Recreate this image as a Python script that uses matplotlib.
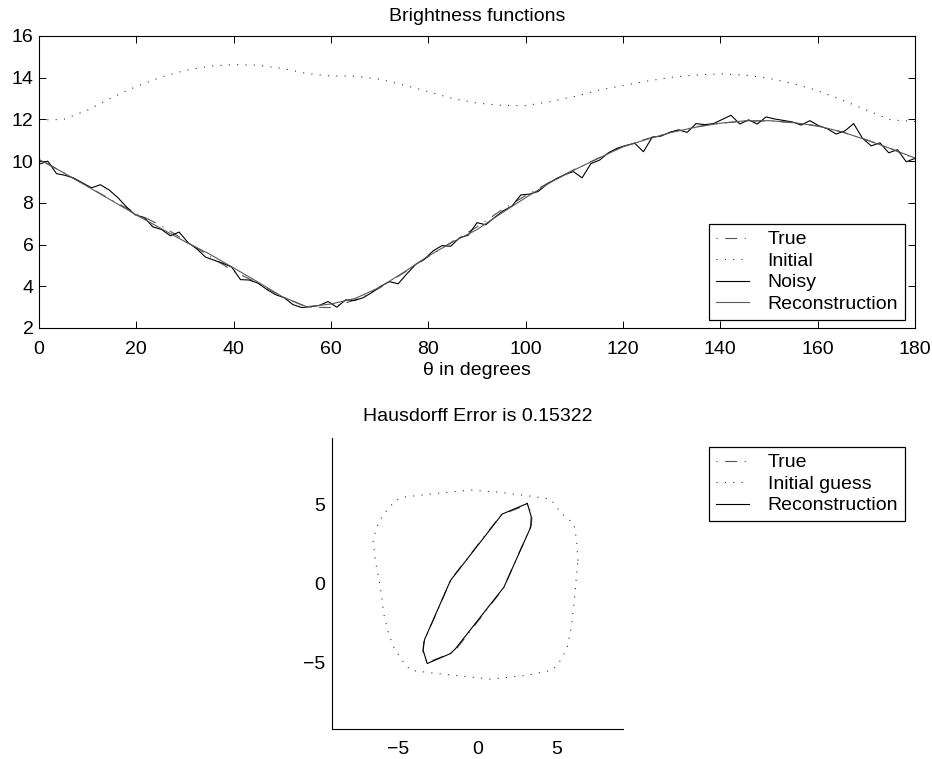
import numpy as np
import matplotlib
matplotlib.use("Agg")
import matplotlib.pyplot as plt

plt.rcParams['font.family'] = ['Liberation Sans', 'DejaVu Sans']
plt.rcParams['lines.scale_dashes'] = False

# ---------------- data: brightness functions ----------------
theta5 = list(range(0, 181, 5))
true_b = [10.12, 9.45, 8.80, 8.12, 7.50, 6.92, 6.20, 5.45, 4.72, 4.15,
          3.50, 3.00, 2.98, 3.35, 3.92, 4.65, 5.42, 6.15, 6.85, 7.65,
          8.35, 9.00, 9.60, 10.15, 10.70, 11.08, 11.40, 11.65, 11.82, 11.92,
          11.93, 11.84, 11.68, 11.40, 11.03, 10.60, 10.12]
initial_b = [11.97, 12.00, 12.45, 13.05, 13.58, 14.02, 14.35, 14.55, 14.63, 14.60,
             14.45, 14.20, 14.08, 14.07, 13.93, 13.65, 13.33, 13.00, 12.78, 12.68,
             12.66, 12.85, 13.10, 13.40, 13.62, 13.84, 14.02, 14.13, 14.18, 14.13,
             13.97, 13.72, 13.38, 12.93, 12.45, 11.98, 11.90]
recon_b = [10.08, 9.45, 8.78, 8.10, 7.42, 6.78, 6.14, 5.55, 4.88, 4.20,
           3.50, 3.02, 3.15, 3.42, 3.95, 4.68, 5.45, 6.12, 6.72, 7.50,
           8.25, 8.97, 9.58, 10.14, 10.69, 11.05, 11.38, 11.63, 11.82, 11.93,
           11.94, 11.85, 11.69, 11.40, 11.02, 10.60, 10.15]

theta_noisy = [round(1.8 * k, 1) for k in range(101)]
noisy_b = [9.85, 10.00, 9.40, 9.32, 9.18, 8.95, 8.72, 8.87, 8.62, 8.25,
           7.80, 7.42, 7.30, 6.85, 6.72, 6.42, 6.60, 6.10, 5.80, 5.40,
           5.25, 5.10, 4.92, 4.32, 4.30, 4.15, 3.85, 3.60, 3.45, 3.12,
           2.98, 3.02, 3.08, 3.27, 3.00, 3.35, 3.32, 3.45, 3.70, 4.00,
           4.22, 4.12, 4.60, 5.05, 5.30, 5.70, 5.95, 5.92, 6.32, 6.45,
           7.05, 6.95, 7.30, 7.62, 7.85, 8.38, 8.42, 8.55, 8.90, 9.15,
           9.35, 9.50, 9.20, 9.88, 10.05, 10.40, 10.62, 10.75, 10.86, 10.45,
           11.15, 11.20, 11.38, 11.50, 11.38, 11.80, 11.75, 11.80, 12.00, 12.20,
           11.78, 11.98, 11.78, 12.12, 12.02, 11.95, 11.88, 11.73, 11.94, 11.70,
           11.55, 11.30, 11.45, 11.80, 11.10, 10.73, 10.88, 10.40, 10.55, 9.97,
           10.13]

# ---------------- data: shapes ----------------
true_x = [3.20, 1.50, -1.65, -3.40, -3.45, -3.20, -1.50, 1.65, 3.40, 3.45, 3.20]
true_y = [5.00, 4.35, 0.30, -3.70, -4.30, -5.00, -4.35, -0.30, 3.70, 4.30, 5.00]

init_x = [6.35, 6.27, 6.10, 5.25, 4.94, 4.62, 3.14, 1.45, -0.44, -2.55, -4.87,
          -5.30, -5.93, -6.25, -6.46, -6.60, -6.46, -6.14, -5.93, -5.62, -5.30,
          -4.77, -4.24, -2.55, 0.82, 3.14, 4.73, 5.25, 5.68, 5.93, 6.10, 6.35]
init_y = [1.45, 2.71, 3.76, 4.50, 4.92, 5.34, 5.55, 5.76, 5.91, 5.70, 5.44,
          5.13, 4.39, 3.87, 3.24, 2.71, 1.45, -0.23, -1.91, -3.17, -4.02,
          -4.86, -5.49, -5.69, -6.05, -5.80, -5.49, -4.86, -4.02, -2.76, -1.28, 1.45]

rec_x = [3.15, 1.56, -1.71, -3.35, -3.44, -3.18, -1.71, -1.39, 1.67, 3.36, 3.40, 3.15]
rec_y = [5.06, 4.39, 0.19, -3.55, -4.22, -5.06, -4.43, -4.12, -0.23, 3.55, 4.22, 5.06]

hausdorff = 0.15322

# ---------------- styles ----------------
DASHDOT = (14.0, (8.5, 5.5, 0.8, 5.5))
DOTTED = (0, (0.8, 5.2))
C_TRUE = '#555555'
C_INIT = '#333333'
C_REC = '#5a5a5a'
LW = 0.8
FS = 14
LEG_KW = dict(loc='upper right', borderaxespad=0, fancybox=False,
              edgecolor='black', framealpha=1, fontsize=FS,
              handlelength=1.7, handletextpad=0.95, labelspacing=0.2,
              borderpad=0.35)

fig = plt.figure(figsize=(9.32, 7.59), dpi=100)

# ---------------- top axes ----------------
ax1 = fig.add_axes([39 / 932, 1 - 328 / 759, 876 / 932, 292 / 759])
l_true, = ax1.plot(theta5, true_b, color=C_TRUE, lw=LW, linestyle=DASHDOT)
l_init, = ax1.plot(theta5, initial_b, color=C_INIT, lw=LW, linestyle=DOTTED)
l_noisy, = ax1.plot(theta_noisy, noisy_b, color='black', lw=LW)
l_rec, = ax1.plot(theta5, recon_b, color=C_REC, lw=LW)
ax1.set_xlim(0, 180)
ax1.set_ylim(2, 16)
ax1.set_xticks(range(0, 181, 20))
ax1.set_yticks(range(2, 17, 2))
ax1.tick_params(direction='in', top=True, right=True, length=5, width=0.7,
                labelsize=FS)
ax1.tick_params(axis='x', pad=9)
ax1.tick_params(axis='y', pad=4)
for s in ax1.spines.values():
    s.set_linewidth(0.8)
ax1.set_title('Brightness functions', fontsize=FS, pad=11)
ax1.set_xlabel('θ in degrees', fontsize=FS, labelpad=3)
leg1 = ax1.legend([l_true, l_init, l_noisy, l_rec],
                  ['True', 'Initial', 'Noisy', 'Reconstruction'],
                  bbox_to_anchor=(905 / 932, 1 - 224 / 759),
                  bbox_transform=fig.transFigure, **LEG_KW)
leg1.get_frame().set_linewidth(0.9)

# ---------------- bottom axes ----------------
ax2 = fig.add_axes([332 / 932, 1 - 729 / 759, 291 / 932, 291 / 759])
s_true, = ax2.plot(true_x, true_y, color=C_TRUE, lw=LW, linestyle=DASHDOT)
s_init, = ax2.plot(init_x, init_y, color=C_INIT, lw=LW, linestyle=DOTTED)
s_rec, = ax2.plot(rec_x, rec_y, color='black', lw=LW)
ax2.set_xlim(-9.2, 9.2)
ax2.set_ylim(-9.2, 9.2)
ax2.set_xticks([-5, 0, 5])
ax2.set_yticks([-5, 0, 5])
ax2.spines['top'].set_visible(False)
ax2.spines['right'].set_visible(False)
for s in ('left', 'bottom'):
    ax2.spines[s].set_linewidth(0.8)
ax2.tick_params(length=0, labelsize=FS)
ax2.tick_params(axis='x', pad=9)
ax2.tick_params(axis='y', pad=5)
ax2.set_title('Hausdorff Error is %.5f' % hausdorff, fontsize=FS, pad=12.5)
leg2 = ax2.legend([s_true, s_init, s_rec],
                  ['True', 'Initial guess', 'Reconstruction'],
                  bbox_to_anchor=(905 / 932, 1 - 447 / 759),
                  bbox_transform=fig.transFigure, **LEG_KW)
leg2.get_frame().set_linewidth(0.9)

fig.savefig('out.png', dpi=100)
